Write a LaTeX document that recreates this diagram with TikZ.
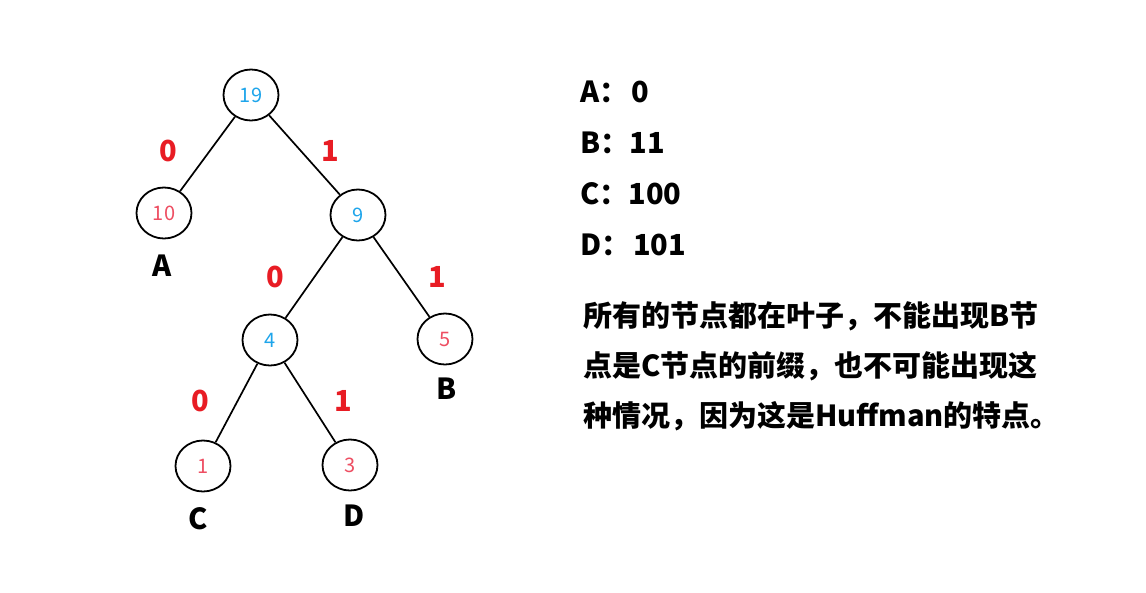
\documentclass[tikz,border=0pt]{standalone}
\usepackage{fontspec}
\setmainfont{Noto Sans CJK SC}
\usetikzlibrary{shapes.geometric}
\definecolor{innerblue}{RGB}{30,165,235}
\definecolor{leafred}{RGB}{238,78,98}
\definecolor{bitred}{RGB}{232,28,36}

\begin{document}
\begin{tikzpicture}[
x=1pt,y=-1pt,
TreeNode/.style={draw=black,ellipse,line width=1.8pt,minimum width=55pt,minimum height=51pt,inner sep=0pt,font=\fontsize{20}{20}\selectfont},
Inner/.style={TreeNode,text=innerblue},
Leaf/.style={TreeNode,text=leafred},
Branch/.style={line width=1.7pt,black},
BitLabel/.style={text=bitred,font=\fontsize{29}{29}\selectfont\bfseries},
LeafName/.style={font=\fontsize{29}{29}\selectfont\bfseries},
CodeLine/.style={anchor=base west,inner sep=0pt,font=\fontsize{29}{29}\selectfont\bfseries}
]
\useasboundingbox[fill=white] (0,0) rectangle (1146,592);

% tree nodes
\node[Inner] (n19) at (251,95) {19};
\node[Leaf] (n10) at (164,213) {10};
\node[Inner] (n9) at (358,215) {9};
\node[Inner] (n4) at (270,340) {4};
\node[Leaf] (n5) at (445,339) {5};
\node[Leaf] (n1) at (203,466) {1};
\node[Leaf] (n3) at (350,465) {3};

\draw[Branch] (n19)--(n10);
\draw[Branch] (n19)--(n9);
\draw[Branch] (n9)--(n4);
\draw[Branch] (n9)--(n5);
\draw[Branch] (n4)--(n1);
\draw[Branch] (n4)--(n3);

% bits on the branches
\node[BitLabel] (b0a) at (168,151) {0};
\node[BitLabel] (b1a) at (330,151) {1};
\node[BitLabel] (b0b) at (275,277) {0};
\node[BitLabel] (b1b) at (437,277) {1};
\node[BitLabel] (b0c) at (200,401) {0};
\node[BitLabel] (b1c) at (343,401) {1};

% leaf names
\node[LeafName] (nameA) at (162,266) {A};
\node[LeafName] (nameB) at (447,389) {B};
\node[LeafName] (nameC) at (198,519) {C};
\node[LeafName] (nameD) at (354,516) {D};

% codes
\node[CodeLine] (codeA) at (580,102) {A：\hspace{3pt}0};
\node[CodeLine] (codeB) at (580,153) {B：11};
\node[CodeLine] (codeC) at (580,204) {C：100};
\node[CodeLine] (codeD) at (580,255) {D：\hspace{3pt}101};

\node[CodeLine] (note1) at (583,326) {所有的节点都在叶子，不能出现B节};
\node[CodeLine] (note2) at (583,376) {点是C节点的前缀，也不可能出现这};
\node[CodeLine] (note3) at (583,426) {种情况，因为这是Huffman的特点。};

\end{tikzpicture}
\end{document}
